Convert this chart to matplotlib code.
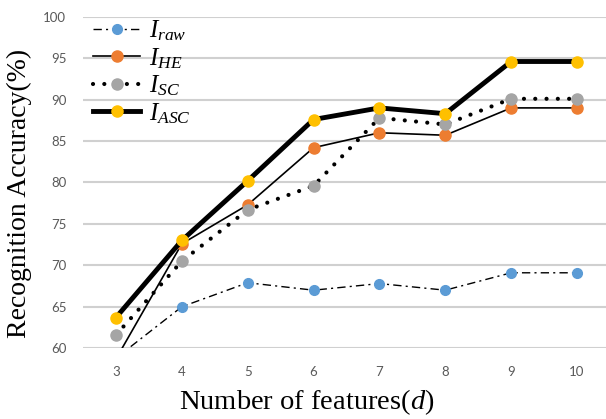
import matplotlib
matplotlib.use("Agg")
import matplotlib.pyplot as plt

features = [3, 4, 5, 6, 7, 8, 9, 10]
acc_raw = [58.8, 65.0, 67.9, 67.0, 67.8, 67.0, 69.1, 69.1]
acc_he = [58.7, 72.6, 77.3, 84.2, 86.0, 85.7, 89.0, 89.0]
acc_sc = [61.6, 70.5, 76.7, 79.6, 87.8, 87.0, 90.1, 90.1]
acc_asc = [63.7, 73.0, 80.2, 87.6, 89.0, 88.3, 94.6, 94.6]
yticks = [60, 65, 70, 75, 80, 85, 90, 95, 100]

plt.rcParams['mathtext.fontset'] = 'custom'
plt.rcParams['mathtext.rm'] = 'Liberation Serif'
plt.rcParams['mathtext.it'] = 'Liberation Serif:italic'

fig = plt.figure(figsize=(6.06, 4.19), dpi=100)
ax = fig.add_axes([0.137, 0.169, 0.863, 0.791])

ax.plot(features, acc_raw, linestyle=(0, (6, 3, 1.5, 3)), color='black', lw=1.0,
        marker='o', ms=7, mfc='#5B9BD5', mec='#5B9BD5', label=r'$I_{raw}$')
ax.plot(features, acc_he, '-', color='black', lw=1.2,
        marker='o', ms=8, mfc='#ED7D31', mec='#ED7D31', label=r'$I_{HE}$')
ax.plot(features, acc_sc, linestyle=(0, (0.01, 2.7)), dash_capstyle='round', color='black', lw=3.0,
        marker='o', ms=8, mfc='#A5A5A5', mec='#A5A5A5', label=r'$I_{SC}$')
ax.plot(features, acc_asc, '-', color='black', lw=3.5,
        marker='o', ms=8, mfc='#FFC000', mec='#FFC000', label=r'$I_{ASC}$')

ax.set_xlim(2.5, 10.44)
ax.set_ylim(60, 100)
ax.set_yticks(yticks)
ax.set_xticks(features)
ax.grid(axis='y', color='#d0d0d0', lw=1.5)
ax.set_axisbelow(True)
for s in ax.spines.values():
    s.set_visible(False)
ax.tick_params(length=0, colors='#595959', labelsize=9.5)
ax.tick_params(axis='x', pad=13)
ax.tick_params(axis='y', pad=12)
for lab in ax.get_xticklabels() + ax.get_yticklabels():
    lab.set_family('Lato')

ax.set_ylabel('Recognition Accuracy(%)', family='Liberation Serif', fontsize=20,
              va='center', ha='center')
ax.set_xlabel(r'Number of features($\mathit{d}$)', family='Liberation Serif', fontsize=20.5,
              va='center', ha='center')
ax.yaxis.set_label_coords(-0.122, 0.468)
ax.xaxis.set_label_coords(0.428, -0.163)

ax.legend(loc='upper left', frameon=False, fontsize=18, numpoints=1, handlelength=1.9,
          handletextpad=0.35, labelspacing=0.12, bbox_to_anchor=(0.019, 0.995),
          borderaxespad=0, borderpad=0)

fig.savefig('out.png', dpi=100)
